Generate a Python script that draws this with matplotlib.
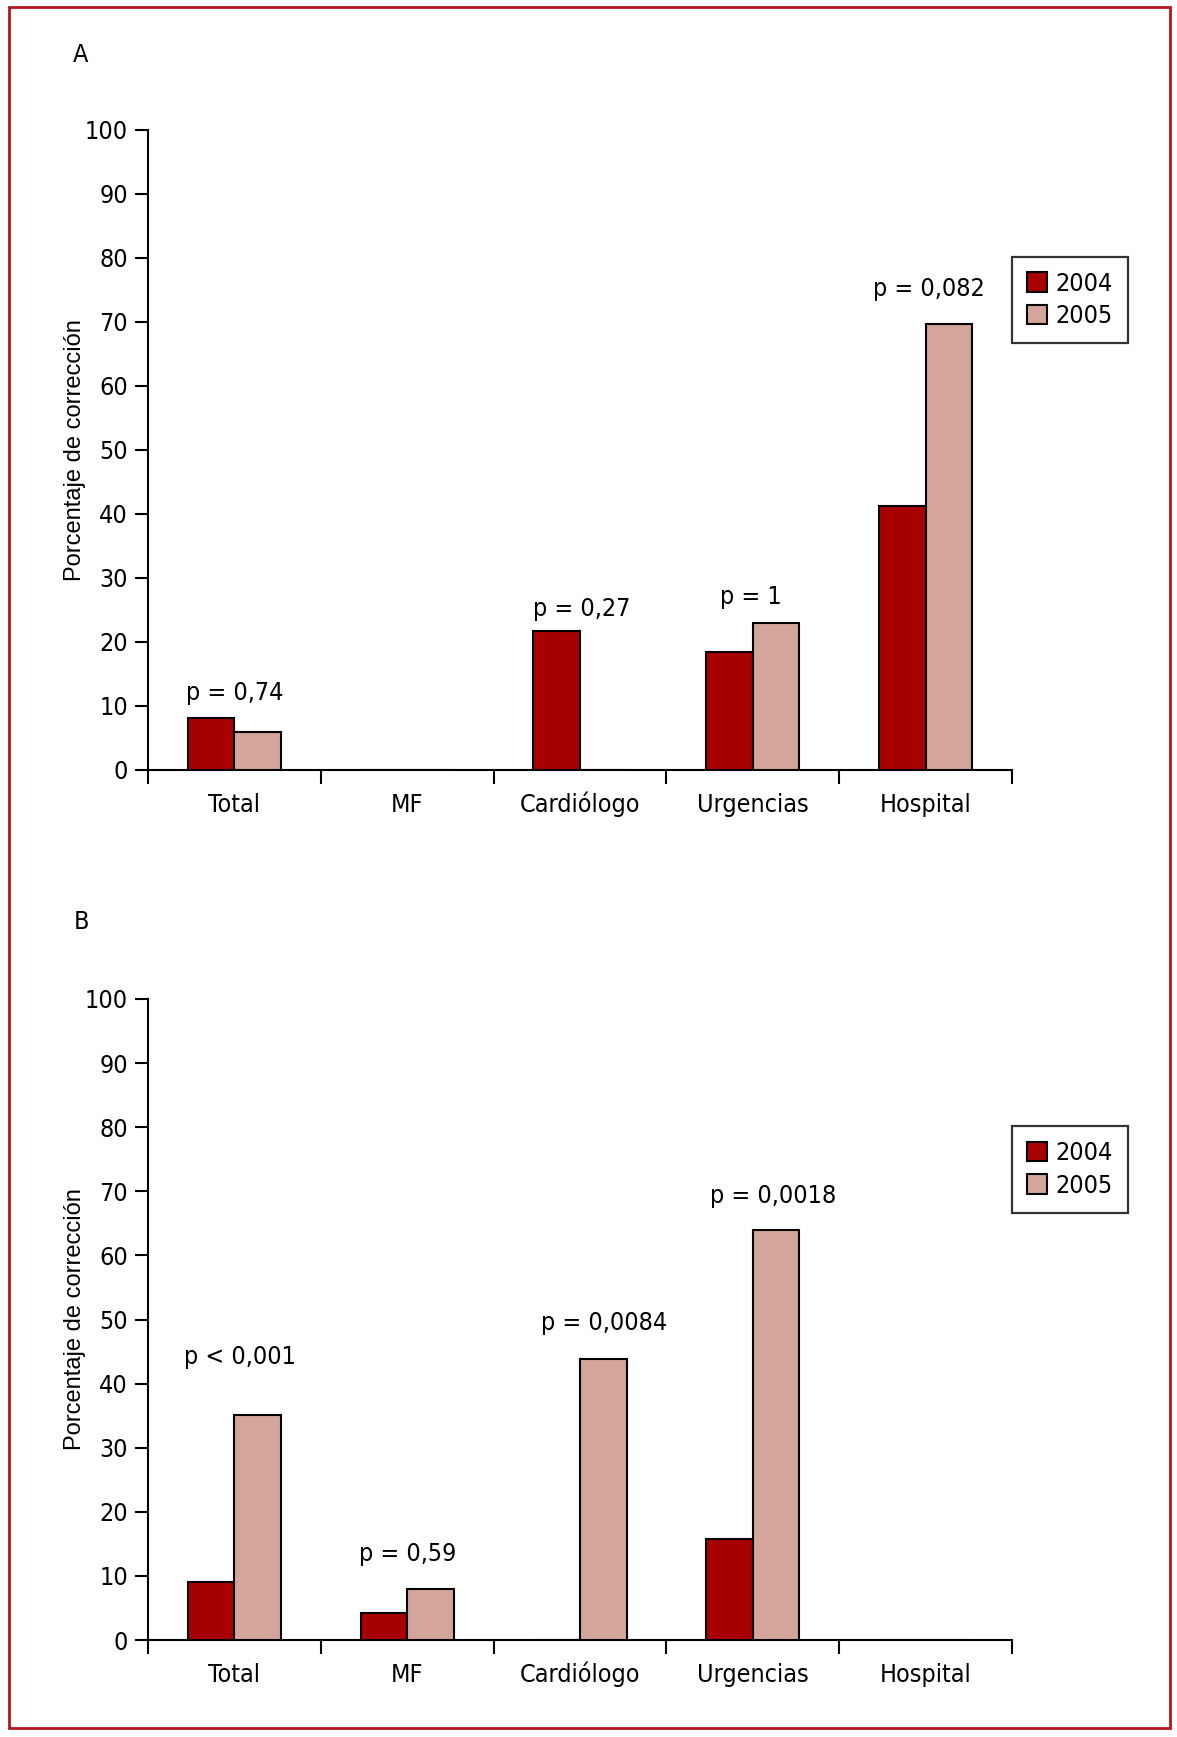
import matplotlib
matplotlib.use('Agg')
import numpy as np
import matplotlib.pyplot as plt
import matplotlib.font_manager as fm
from matplotlib.patches import Rectangle, Patch

# Data
categories = ['Total', 'MF', 'Cardiólogo', 'Urgencias', 'Hospital']
years = ['2004', '2005']

a_2004 = [8.2, 0, 21.7, 18.5, 41.2]
a_2005 = [6.0, 0, 0, 22.9, 69.7]
a_pvalues = ['p = 0,74', '', 'p = 0,27', 'p = 1', 'p = 0,082']
a_plevels = [10.9, 0, 24.0, 25.9, 74.0]

b_2004 = [9.0, 4.2, 0, 15.8, 0]
b_2005 = [35.1, 8.0, 43.8, 64.0, 0]
b_pvalues = ['p < 0,001', 'p = 0,59', 'p = 0,0084', 'p = 0,0018', '']
b_plevels = [43.1, 12.3, 48.3, 68.1, 0]

yticks = [0, 10, 20, 30, 40, 50, 60, 70, 80, 90, 100]

# horizontal shift of p labels (category units)
a_pshift = [0, 0, 0.01, -0.01, 0.02]
b_pshift = [0.03, 0, 0.14, 0.12, 0]

c2004 = '#a80000'
c2005 = '#d4a69b'
frame_red = '#b5161f'

# pick a condensed face if there is one
names = {f.name for f in fm.fontManager.ttflist}
cond_kw = {}
if 'Liberation Sans Narrow' in names:
    cond_kw = {'family': 'Liberation Sans Narrow'}
elif any(f.name == 'DejaVu Sans' and f.stretch == 'condensed' for f in fm.fontManager.ttflist):
    cond_kw = {'family': 'DejaVu Sans', 'stretch': 'condensed'}
else:
    cond_kw = {'family': 'Liberation Sans'}

FS = 18
W, H = 1177, 1737
fig = plt.figure(figsize=(W / 100, H / 100), dpi=100)

# outer red frame
fig.patches.append(Rectangle((9 / W, 1 - 1728 / H), (1170 - 9) / W, (1728 - 7) / H,
                             transform=fig.transFigure, fill=False,
                             edgecolor=frame_red, linewidth=2.0))


def draw_panel(top_px, bottom_px, v2004, v2005, pvals, plevels, pshift):
    left_px, right_px = 148, 1012
    ax = fig.add_axes([left_px / W, 1 - bottom_px / H,
                       (right_px - left_px) / W, (bottom_px - top_px) / H])
    x = np.arange(len(categories))
    bw = 0.27
    ax.bar(x - bw / 2, v2004, bw, color=c2004, edgecolor='black', linewidth=1.5, zorder=3)
    ax.bar(x + bw / 2, v2005, bw, color=c2005, edgecolor='black', linewidth=1.5, zorder=3)

    for i, txt in enumerate(pvals):
        if txt:
            ax.text(x[i] + pshift[i], plevels[i], txt, ha='center', va='baseline',
                    fontsize=FS, **cond_kw)

    ax.set_xlim(-0.5, len(categories) - 0.5)
    ax.set_ylim(0, 100)
    for s in ['top', 'right']:
        ax.spines[s].set_visible(False)
    for s in ['left', 'bottom']:
        ax.spines[s].set_linewidth(1.5)

    ax.set_yticks(yticks)
    ax.set_yticklabels([str(t) for t in yticks], fontsize=FS, **cond_kw)
    ax.tick_params(axis='y', direction='out', length=9.5, width=1.5, pad=5)

    ax.set_xticks(np.arange(-0.5, len(categories)))
    ax.set_xticklabels([])
    ax.tick_params(axis='x', which='major', direction='out', length=10, width=1.5)
    ax.set_xticks(x, minor=True)
    ax.set_xticklabels(categories, minor=True, fontsize=FS, **cond_kw)
    ax.tick_params(axis='x', which='minor', length=0, pad=30)
    for lab in ax.get_xticklabels(minor=True):
        lab.set_verticalalignment('baseline')

    handles = [Patch(facecolor=c2004, edgecolor='black', linewidth=1.5),
               Patch(facecolor=c2005, edgecolor='black', linewidth=1.5)]
    leg = ax.legend(handles, years, loc='upper left', bbox_to_anchor=(1.0, 0.802),
                    borderaxespad=0, frameon=True, fancybox=False,
                    handlelength=0.8, handleheight=0.8, handletextpad=0.35,
                    labelspacing=0.35, borderpad=0.6,
                    prop=fm.FontProperties(size=FS, **cond_kw))
    leg.get_frame().set_edgecolor('black')
    leg.get_frame().set_linewidth(1.6)

    fig.text(75 / W, 1 - (top_px + bottom_px) / 2 / H, 'Porcentaje de corrección',
             rotation=90, ha='center', va='center', fontsize=17, family='Liberation Sans')
    return ax


draw_panel(130, 770, a_2004, a_2005, a_pvalues, a_plevels, a_pshift)
draw_panel(999, 1640, b_2004, b_2005, b_pvalues, b_plevels, b_pshift)

fig.text(81 / W, 1 - 55 / H, 'A', ha='center', va='center', fontsize=FS, **cond_kw)
fig.text(81 / W, 1 - 922 / H, 'B', ha='center', va='center', fontsize=FS, **cond_kw)

fig.savefig('out.png', dpi=100)
